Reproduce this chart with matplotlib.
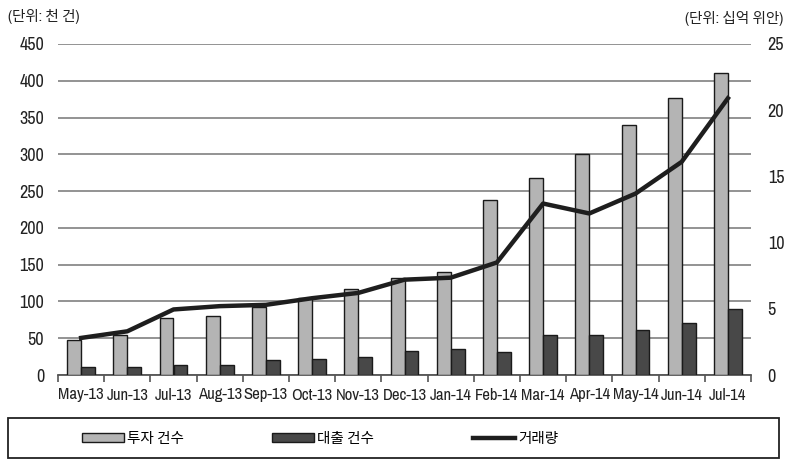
import matplotlib
matplotlib.use("Agg")
import matplotlib.pyplot as plt
import numpy as np
from matplotlib.patches import Rectangle, Patch
from matplotlib.lines import Line2D

months = ["May-13", "Jun-13", "Jul-13", "Aug-13", "Sep-13", "Oct-13", "Nov-13", "Dec-13",
          "Jan-14", "Feb-14", "Mar-14", "Apr-14", "May-14", "Jun-14", "Jul-14"]
invest_counts = [47, 55, 77, 80, 93, 105, 117, 132, 140, 238, 268, 300, 340, 377, 410]
loan_counts = [11, 11, 13, 14, 21, 22, 25, 33, 35, 31, 55, 55, 61, 71, 90]
volume = [2.8, 3.3, 4.95, 5.2, 5.3, 5.8, 6.2, 7.2, 7.35, 8.5, 12.95, 12.2, 13.7, 16.1, 20.9]

left_ticks = [0, 50, 100, 150, 200, 250, 300, 350, 400, 450]
right_ticks = [0, 5, 10, 15, 20, 25]
legend_labels = ["투자 건수", "대출 건수", "거래량"]

FONT = ["Archivo Narrow", "Noto Sans CJK KR", "DejaVu Sans"]
plt.rcParams["font.family"] = FONT

fig = plt.figure(figsize=(7.87, 4.67), dpi=100)
ax = fig.add_axes([58/787, 1-375/467, (751-58)/787, (375-44)/467])
ax2 = ax.twinx()

x = np.arange(len(months))
w = 0.30
ax.bar(x - w/2, invest_counts, w, color="#b4b4b4", edgecolor="#1a1a1a", linewidth=1.0, zorder=3)
ax.bar(x + w/2, loan_counts, w, color="#484848", edgecolor="#1a1a1a", linewidth=1.0, zorder=3)
ax2.plot(x, volume, color="#1e1e1e", linewidth=3.2, solid_joinstyle="round", zorder=4)

ax.set_xlim(-0.5, len(months) - 0.5)
ax.set_ylim(0, 450)
ax2.set_ylim(0, 25)
ax.set_yticks(left_ticks)
ax2.set_yticks(right_ticks)
ax.yaxis.grid(True, color="#8a8a8a", linewidth=1.3, zorder=0)
ax.set_axisbelow(True)

for a in (ax, ax2):
    for s in ("top", "left", "right"):
        a.spines[s].set_visible(False)
ax2.spines["bottom"].set_visible(False)
ax.spines["bottom"].set_color("#555555")
ax.spines["bottom"].set_linewidth(1.3)

ax.set_xticks(x)
ax.set_xticklabels(months)
ax.set_xticks(np.arange(-0.5, len(months), 1.0), minor=True)
ax.tick_params(axis="x", which="major", length=0, pad=9, labelsize=12, labelcolor="#222222")
ax.tick_params(axis="x", which="minor", length=5, width=1.2, color="#555555", direction="out")
ax.tick_params(axis="y", length=0, pad=10, labelsize=13, labelcolor="#222222")
ax2.tick_params(axis="y", length=0, pad=12, labelsize=13, labelcolor="#222222")

fig.text(8/787, 1-16/467, "(단위: 천 건)", fontsize=10.5, ha="left", va="center", color="#222222")
fig.text(783/787, 1-18/467, "(단위: 십억 위안)", fontsize=10.5, ha="right", va="center", color="#222222")

# legend box
fig.patches.append(Rectangle((8/787, 1-458/467), (779-8)/787, (458-418)/467,
                             transform=fig.transFigure, fill=False,
                             edgecolor="#222222", linewidth=1.3))
handles = [Patch(facecolor="#b4b4b4", edgecolor="#1a1a1a", linewidth=1.0),
           Patch(facecolor="#484848", edgecolor="#1a1a1a", linewidth=1.0),
           Line2D([0], [0], color="#1e1e1e", linewidth=3.2)]
for h, lab, xa in zip(handles, legend_labels, (69, 259, 460)):
    fig.legend([h], [lab], loc="center left",
               bbox_to_anchor=(xa/787, 1-439/467), frameon=False,
               fontsize=10.5, handlelength=2.9, handleheight=0.6, handletextpad=0.2)

fig.savefig("out.png", dpi=100)
